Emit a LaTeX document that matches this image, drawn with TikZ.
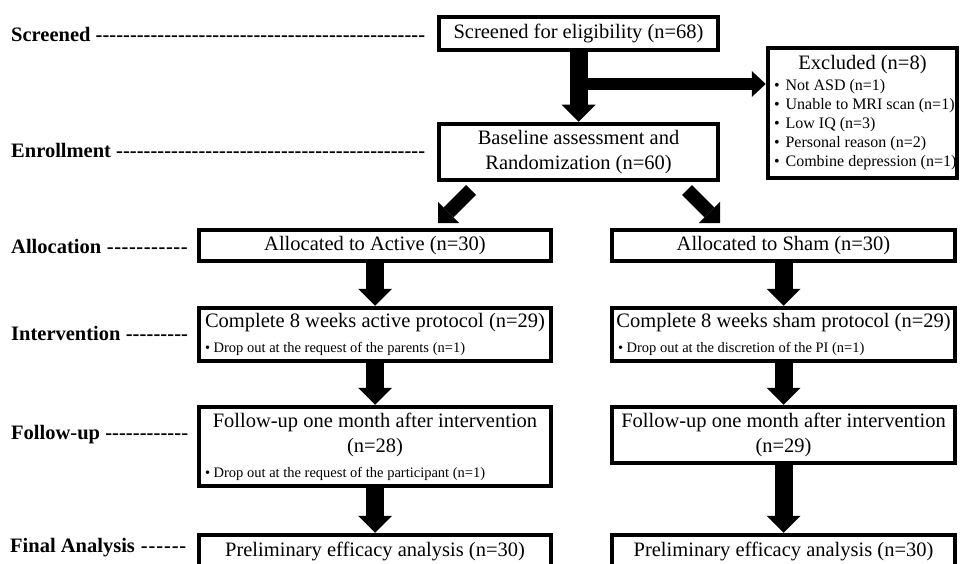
\documentclass[tikz,border=0pt]{standalone}
\usepackage{fontspec}
\setmainfont{Liberation Serif}
\usetikzlibrary{arrows.meta,calc}
\newcommand{\fsz}[2]{\fontsize{#1}{#2}\selectfont}
\newcommand{\lline}[2]{\makebox[\linewidth][l]{\spaceskip=0pt\xspaceskip=0pt #1#2}}
\begin{document}
\begin{tikzpicture}[x=1pt,y=-1pt,
  box/.style={draw, line width=4.5pt, inner xsep=4pt, inner ysep=2pt, font=\fsz{20.5}{25}, align=center,
    execute at begin node={\spaceskip=5.1pt\xspaceskip=5.1pt}},
  lab/.style={font=\bfseries\fsz{20.5}{24}, inner sep=0pt, anchor=base west},
  vbig/.style={line width=18pt, -{Triangle[width=34pt,length=17pt,line width=0pt]}},
  hbig/.style={line width=12pt, -{Triangle[width=26pt,length=14pt,line width=0pt]}},
  dbig/.style={line width=14pt, -{Triangle[width=30pt,length=15pt,line width=0pt]}}]
\useasboundingbox (0,0) rectangle (960,564);
\fill[white] (0,0) rectangle (960,564);
\clip (0,0) rectangle (960,564);

% stage labels
\node[lab] (Lscr) at (11,42) {\hbox to 414pt{Screened \xleaders\hbox{-}\hfill}};
\node[lab] (Lenr) at (11,158) {\hbox to 414pt{Enrollment \xleaders\hbox{-}\hfill}};
\node[lab] (Lall) at (11,253) {\hbox to 177pt{Allocation \xleaders\hbox{-}\hfill}};
\node[lab] (Lint) at (11,340) {\hbox to 177pt{Intervention \xleaders\hbox{-}\hfill}};
\node[lab] (Lfol) at (11,439) {\hbox to 177pt{Follow-up \xleaders\hbox{-}\hfill}};
\node[lab] (Lfin) at (10,552) {\hbox to 177pt{Final Analysis \xleaders\hbox{-}\hfill}};

% boxes
\node[box, text width=271pt, minimum height=33pt] (scr) at (578.5,33.5) {Screened for eligibility (n=68)};
\node[box, text width=271pt, minimum height=56pt] (base) at (578.5,152) {Baseline assessment and\\Randomization (n=60)};
\node[box, text width=181pt, minimum height=130pt, font=\fsz{16}{19}] (excl) at (862.5,113)
  {{\fsz{20.5}{21}Excluded (n=8)}\\[2pt]
   \lline{\hspace{2pt}•\hspace{6pt}}{Not ASD (n=1)}\\
   \lline{\hspace{2pt}•\hspace{6pt}}{Unable to MRI scan (n=1)}\\
   \lline{\hspace{2pt}•\hspace{6pt}}{Low IQ (n=3)}\\
   \lline{\hspace{2pt}•\hspace{6pt}}{Personal reason (n=2)}\\
   \lline{\hspace{2pt}•\hspace{6pt}}{Combine depression (n=1)}};

\node[box, text width=344pt, minimum height=31pt] (alA) at (375,245.5) {Allocated to Active (n=30)};
\node[box, text width=335pt, minimum height=31pt] (alS) at (783.5,245.5) {Allocated to Sham (n=30)};

\node[box, text width=344pt, minimum height=53pt] (inA) at (375,334.5)
  {\mbox{Complete 8 weeks active protocol (n=29)}\\
   \lline{\fsz{14.5}{16}}{\hspace{2pt}•\ Drop out at the request of the parents (n=1)}};
\node[box, text width=335pt, minimum height=53pt] (inS) at (783.5,334.5)
  {\mbox{Complete 8 weeks sham protocol (n=29)}\\
   \lline{\fsz{14.5}{16}}{\hspace{2pt}•\ Drop out at the discretion of the PI (n=1)}};

\node[box, text width=344pt, minimum height=79pt] (fuA) at (375,446.5)
  {Follow-up one month after intervention\\(n=28)\\
   \lline{\fsz{14.5}{16}}{\hspace{2pt}•\ Drop out at the request of the participant (n=1)}};
\node[box, text width=335pt, minimum height=56pt] (fuS) at (783.5,435)
  {Follow-up one month after intervention\\(n=29)};

\node[box, text width=344pt, minimum height=33pt] (fnA) at (375,551.5) {Preliminary efficacy analysis (n=30)};
\node[box, text width=335pt, minimum height=33pt] (fnS) at (783.5,551.5) {Preliminary efficacy analysis (n=30)};

% connectors
\coordinate (split) at (578.5,84);
\draw[vbig] (scr.south) -- (base.north);
\draw[hbig] (split) -- (split -| excl.west);

\coordinate (dL0) at (471,190);
\coordinate (dL1) at (438,223);
\coordinate (dR0) at (687,190);
\coordinate (dR1) at (720,223);
\draw[dbig] (dL0) -- (dL1);
\draw[dbig] (dR0) -- (dR1);

\draw[vbig] (alA.south) -- (inA.north);
\draw[vbig] (alS.south) -- (inS.north);
\draw[vbig] (inA.south) -- (fuA.north);
\draw[vbig] (inS.south) -- (fuS.north);
\draw[vbig] (fuA.south) -- (fnA.north);
\draw[vbig] (fuS.south) -- (fnS.north);
\end{tikzpicture}
\end{document}
